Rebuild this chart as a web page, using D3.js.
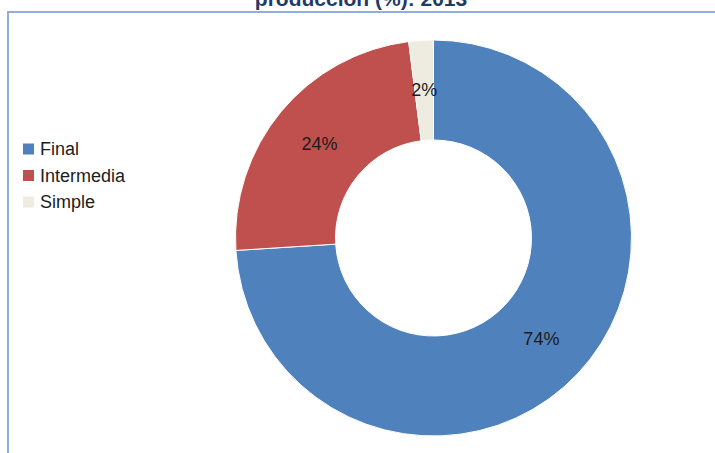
<!DOCTYPE html>
<html>
<head>
<meta charset="utf-8">
<script src="https://cdn.jsdelivr.net/npm/d3@7"></script>
<style>
  body { margin: 0; background: #fff; }
  svg { display: block; font-family: "Liberation Sans", Arial, sans-serif; }
</style>
</head>
<body>
<svg id="chart" width="715" height="453"></svg>
<script>
var categories = ["Final", "Intermedia", "Simple"];
var values = [74, 24, 2];
var labels = ["74%", "24%", "2%"];
var colors = ["#4F81BD", "#C0504D", "#EEECE1"];

var svg = d3.select("#chart");

// title, cut off at the top like the scanned page
svg.append("text")
    .attr("x", 361)
    .attr("y", 6)
    .attr("text-anchor", "middle")
    .attr("font-size", 21)
    .attr("font-weight", "bold")
    .attr("fill", "#1F3A66")
    .text("producción (%): 2013");

// frame (top and left edge only visible)
svg.append("path")
    .attr("d", "M8,453 L8,12 L715,12")
    .attr("fill", "none")
    .attr("stroke", "#93ACD8")
    .attr("stroke-width", 2);

var cx = 433.5, cy = 238, rOuter = 198, rInner = 98;

var data = categories.map(function (c, i) {
    return { name: c, value: values[i], label: labels[i], color: colors[i] };
});

var pie = d3.pie()
    .sort(null)
    .value(function (d) { return d.value; });

var arc = d3.arc()
    .innerRadius(rInner)
    .outerRadius(rOuter);

var g = svg.append("g")
    .attr("transform", "translate(" + cx + "," + cy + ")");

var slices = g.selectAll("g.slice")
    .data(pie(data))
    .enter()
    .append("g")
        .attr("class", "slice");

slices.append("path")
    .attr("d", arc)
    .attr("fill", function (d) { return d.data.color; })
    .attr("stroke", "#fff")
    .attr("stroke-width", 1);

slices.append("text")
    .attr("transform", function (d) {
        return "translate(" + arc.centroid(d) + ")";
    })
    .attr("text-anchor", "middle")
    .attr("dominant-baseline", "central")
    .attr("font-size", 18)
    .attr("fill", "#1c1c1c")
    .text(function (d) { return d.data.label; });

// legend
var legend = svg.append("g")
    .attr("transform", "translate(23,149)");

var item = legend.selectAll("g.item")
    .data(data)
    .enter()
    .append("g")
        .attr("class", "item")
        .attr("transform", function (d, i) {
            return "translate(0," + (i * 26.5) + ")";
        });

item.append("rect")
    .attr("x", 0)
    .attr("y", -5.5)
    .attr("width", 11)
    .attr("height", 11)
    .attr("fill", function (d) { return d.color; });

item.append("text")
    .attr("x", 17)
    .attr("y", 0)
    .attr("dominant-baseline", "central")
    .attr("font-size", 18)
    .attr("fill", "#1c1c1c")
    .text(function (d) { return d.name; });
</script>
</body>
</html>
